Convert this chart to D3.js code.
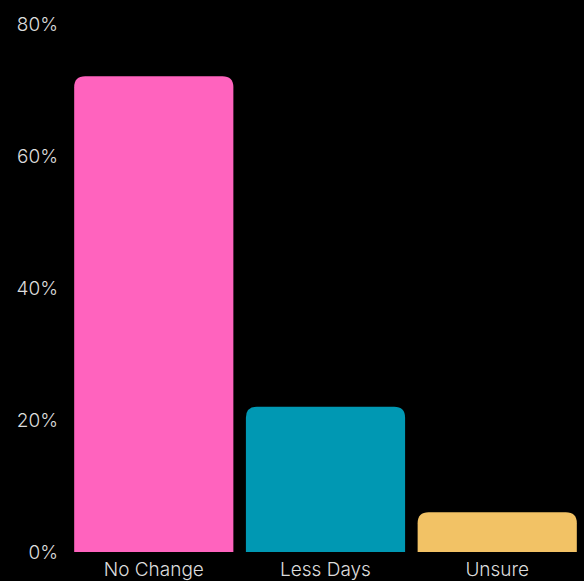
<!DOCTYPE html>
<html>
<head>
<meta charset="utf-8">
<script src="https://cdn.jsdelivr.net/npm/d3@7"></script>
<style>
  html, body { margin: 0; padding: 0; background: #000; }
  #chart { display: block; }
  .tick text { font-family: Inter, "Noto Sans", sans-serif; font-weight: 300; font-size: 19px; fill: #dcdcdc; }
  .axis .domain, .axis line { display: none; }
</style>
</head>
<body>
<svg id="chart" width="584" height="581"></svg>
<script>
// values (percent)
const categories = ["No Change", "Less Days", "Unsure"];
const values = [72, 22, 6];
const colors = ["#ff63be", "#0098b3", "#f2c265"];
const yTicks = [0, 20, 40, 60, 80];

const svg = d3.select("#chart");
const width = 584, height = 581;
const margin = {top: 23.5, right: 1, bottom: 29, left: 68};

const x = d3.scaleBand()
    .domain(categories)
    .range([margin.left, width - margin.right])
    .paddingInner(0.073)
    .paddingOuter(0.036);

const y = d3.scaleLinear()
    .domain([0, 80])
    .range([height - margin.bottom, margin.top]);

// rounded top corners only
function barPath(x0, y0, w, h, r) {
    r = Math.min(r, h, w / 2);
    return "M" + x0 + "," + (y0 + h) +
        "V" + (y0 + r) +
        "Q" + x0 + "," + y0 + " " + (x0 + r) + "," + y0 +
        "H" + (x0 + w - r) +
        "Q" + (x0 + w) + "," + y0 + " " + (x0 + w) + "," + (y0 + r) +
        "V" + (y0 + h) + "Z";
}

svg.append("g")
    .selectAll("path")
    .data(values)
    .join("path")
    .attr("fill", (d, i) => colors[i])
    .attr("d", (d, i) => barPath(x(categories[i]), y(d), x.bandwidth(), y(0) - y(d), 11));

svg.append("g")
    .attr("class", "y axis")
    .attr("transform", "translate(" + (margin.left - 10) + ",0)")
    .call(d3.axisLeft(y).tickValues(yTicks).tickSize(0).tickPadding(0).tickFormat(d => d + "%"))
    .call(g => g.selectAll("text").attr("dy", "0.35em"));

svg.append("g")
    .attr("class", "x axis")
    .attr("transform", "translate(0," + y(0) + ")")
    .call(d3.axisBottom(x).tickSize(0).tickPadding(10))
    .call(g => g.selectAll("text").attr("dy", "0.76em"));
</script>
</body>
</html>
